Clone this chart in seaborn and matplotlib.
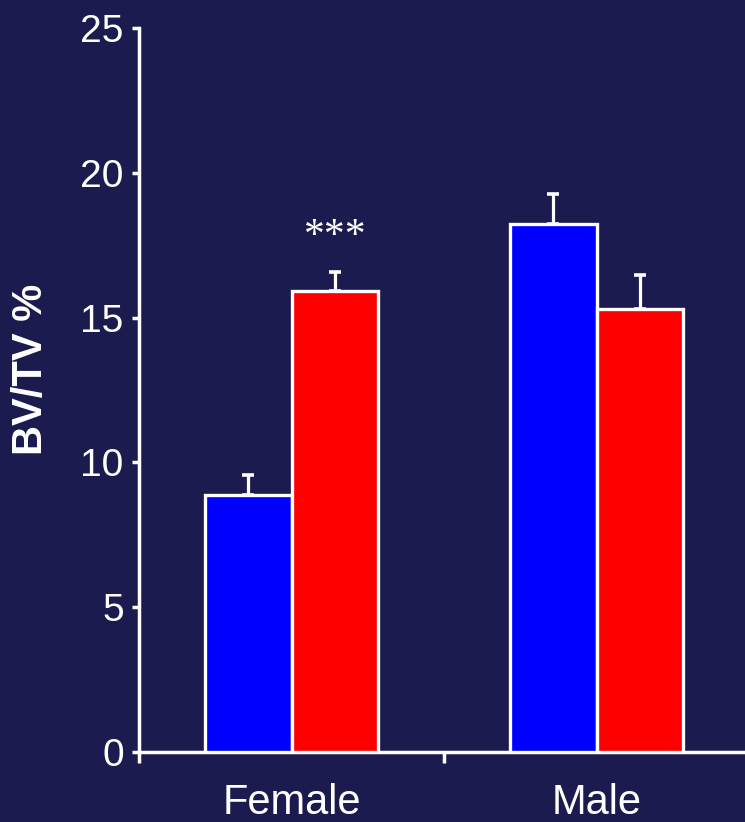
import numpy as np
import pandas as pd
import matplotlib
matplotlib.use("Agg")
import matplotlib.pyplot as plt
import seaborn as sns

# ---- data ----
sexes = ["Female", "Male"]
groups = ["Group A", "Group B"]
bvtv_blue = [8.87, 18.24]
bvtv_red = [15.92, 15.30]
err_blue = [0.69, 1.04]
err_red = [0.66, 1.17]
y_ticks = [0, 5, 10, 15, 20, 25]
y_label = "BV/TV %"
sig_text = "***"
sig_height = 17.45

BG = "#1c1b4f"
BLUE = "#0000ff"
RED = "#ff0000"

df = pd.DataFrame({
    "sex": sexes * 2,
    "group": [groups[0]] * 2 + [groups[1]] * 2,
    "value": bvtv_blue + bvtv_red,
})
errs = [err_blue, err_red]

sns.set_style("ticks")
plt.rcParams["font.family"] = ["Liberation Sans", "DejaVu Sans"]

fig = plt.figure(figsize=(7.45, 8.22), dpi=100, facecolor=BG)
ax = fig.add_axes([139 / 745, 70 / 822, 610 / 745, 724 / 822])
ax.set_facecolor(BG)

sns.barplot(data=df, x="sex", y="value", hue="group", order=sexes,
            hue_order=groups, palette=[BLUE, RED], width=0.57,
            saturation=1, edgecolor="white", linewidth=2.4,
            errorbar=None, legend=False, ax=ax, zorder=3)

for cont, e in zip(ax.containers, errs):
    xs = [b.get_x() + b.get_width() / 2 for b in cont]
    hs = [b.get_height() for b in cont]
    ax.errorbar(xs, hs, yerr=[np.zeros(len(e)), e], fmt="none",
                ecolor="white", elinewidth=2.3, capsize=4, capthick=2.6,
                zorder=2)

# significance marker over Female / second group bar
fb = ax.containers[1][0]
ax.text(fb.get_x() + fb.get_width() / 2, sig_height, sig_text,
        ha="center", va="baseline", fontsize=30, color="white",
        family=["Liberation Serif", "DejaVu Serif"])

ax.set_ylim(0, 25)
ax.set_xlim(-0.5, 1.5)
ax.set_yticks(y_ticks)
ax.set_yticklabels([str(t) for t in y_ticks])
ax.set_xticks([0, 1])
ax.set_xticklabels(sexes)
ax.set_xticks([-0.5, 0.5, 1.5], minor=True)

ax.tick_params(axis="y", colors="white", labelcolor="white", labelsize=28,
               length=5, width=2.5, pad=6, direction="out")
ax.tick_params(axis="x", which="major", length=0, labelsize=30,
               labelcolor="white", pad=22)
ax.tick_params(axis="x", which="minor", length=8, width=2.5,
               color="white", direction="out")

for side in ["top", "right"]:
    ax.spines[side].set_visible(False)
for side in ["left", "bottom"]:
    ax.spines[side].set_color("white")
    ax.spines[side].set_linewidth(2.5)

ax.set_xlabel("")
ax.set_ylabel("")
ax.text(-0.177, 0.529, y_label, transform=ax.transAxes, rotation=90,
        ha="center", va="center", fontsize=30, fontweight="bold",
        color="white")

fig.savefig("out.png", dpi=100, facecolor=BG)
